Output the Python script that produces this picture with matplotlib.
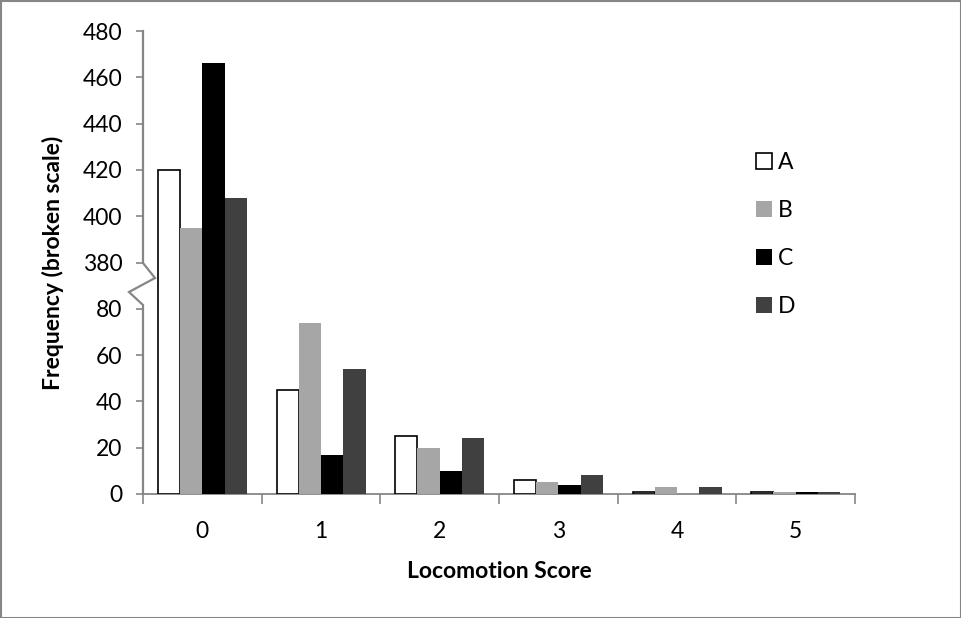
import numpy as np
import matplotlib
matplotlib.use("Agg")
import matplotlib.pyplot as plt
from matplotlib.patches import Rectangle
from matplotlib.lines import Line2D

plt.rcParams['font.family'] = ['Lato', 'DejaVu Sans']

categories = ['0', '1', '2', '3', '4', '5']
series_names = ['A', 'B', 'C', 'D']
values_A = [420, 45, 25, 6, 1, 1]
values_B = [395, 74, 20, 5, 3, 1]
values_C = [466, 17, 10, 4, 0, 1]
values_D = [408, 54, 24, 8, 3, 1]
y_ticks = [0, 20, 40, 60, 80, 380, 400, 420, 440, 460, 480]

colors = ['white', '#A6A6A6', '#000000', '#404040']
edges = ['black', 'none', 'none', 'none']

# broken-scale mapping (80 -> 380 compressed into one gap)
def fwd(v):
    v = np.asarray(v, dtype=float)
    return np.where(v <= 80, v, np.where(v >= 380, v - 280, 80 + (v - 80) * 20.0 / 300.0))

def inv(u):
    u = np.asarray(u, dtype=float)
    return np.where(u <= 80, u, np.where(u >= 100, u + 280, 80 + (u - 80) * 300.0 / 20.0))

W, H = 962, 618
FS = 16.5
fig = plt.figure(figsize=(W / 100, H / 100), dpi=100)
ax = fig.add_axes([143 / W, 1 - 494 / H, (855 - 143) / W, (494 - 31) / H])
ax.set_yscale('function', functions=(fwd, inv))

x = np.arange(len(categories))
bw = 0.1875
all_vals = [values_A, values_B, values_C, values_D]
for i, vals in enumerate(all_vals):
    ax.bar(x + (i - 1.5) * bw, vals, width=bw, color=colors[i],
           edgecolor=edges[i], linewidth=1.2 if edges[i] != 'none' else 0,
           label=series_names[i], zorder=3)

ax.set_xlim(-0.5, len(categories) - 0.5)
ax.set_ylim(0, 480)
ax.set_yticks(y_ticks)
ax.set_yticklabels([str(t) for t in y_ticks])
ax.yaxis.set_minor_locator(matplotlib.ticker.NullLocator())
ax.set_xticks(x)
ax.set_xticklabels(categories)
ax.set_xticks(np.arange(-0.5, len(categories), 1.0), minor=True)

gray = '#868686'
ax.tick_params(axis='x', which='major', length=0, pad=19.8, labelsize=FS)
ax.tick_params(axis='x', which='minor', length=7, width=1.2, color=gray, direction='out')
ax.tick_params(axis='y', which='major', length=5, width=1.2, color=gray, direction='out', pad=10, labelsize=FS)

for s in ['top', 'right', 'left']:
    ax.spines[s].set_visible(False)
ax.spines['bottom'].set_color(gray)
ax.spines['bottom'].set_linewidth(1.3)

# left axis with break zigzag (drawn in pixel-based figure coords)
def fx(px):
    return px / W
def fy(py):
    return 1 - py / H
axis_x = 143
pts = [(axis_x, 31), (axis_x, 263), (155, 278), (129, 292), (axis_x, 305), (axis_x, 494)]
fig.add_artist(Line2D([fx(p[0]) for p in pts], [fy(p[1]) for p in pts],
                      color=gray, linewidth=1.6, solid_joinstyle='miter'))

ax.set_xlabel('Locomotion Score', fontsize=FS, fontweight='bold')
ax.xaxis.set_label_coords(0.5, (494 - 561) / 463)
ax.set_ylabel('Frequency (broken scale)', fontsize=FS, fontweight='bold')
ax.yaxis.set_label_coords((64.5 - 143) / 712, 0.5)

leg = ax.legend(loc='upper left', bbox_to_anchor=(fx(756), fy(152)),
                bbox_transform=fig.transFigure, frameon=False, fontsize=FS,
                labelspacing=1.18, handlelength=0.7, handleheight=0.7,
                handletextpad=0.26, borderpad=0, borderaxespad=0)

# figure border
fig.add_artist(Rectangle((0.5 / W, 0.5 / H), 1 - 1.5 / W, 1 - 1.5 / H, transform=fig.transFigure,
                         fill=False, edgecolor=gray, linewidth=1.5))

fig.savefig('out.png', dpi=100)
